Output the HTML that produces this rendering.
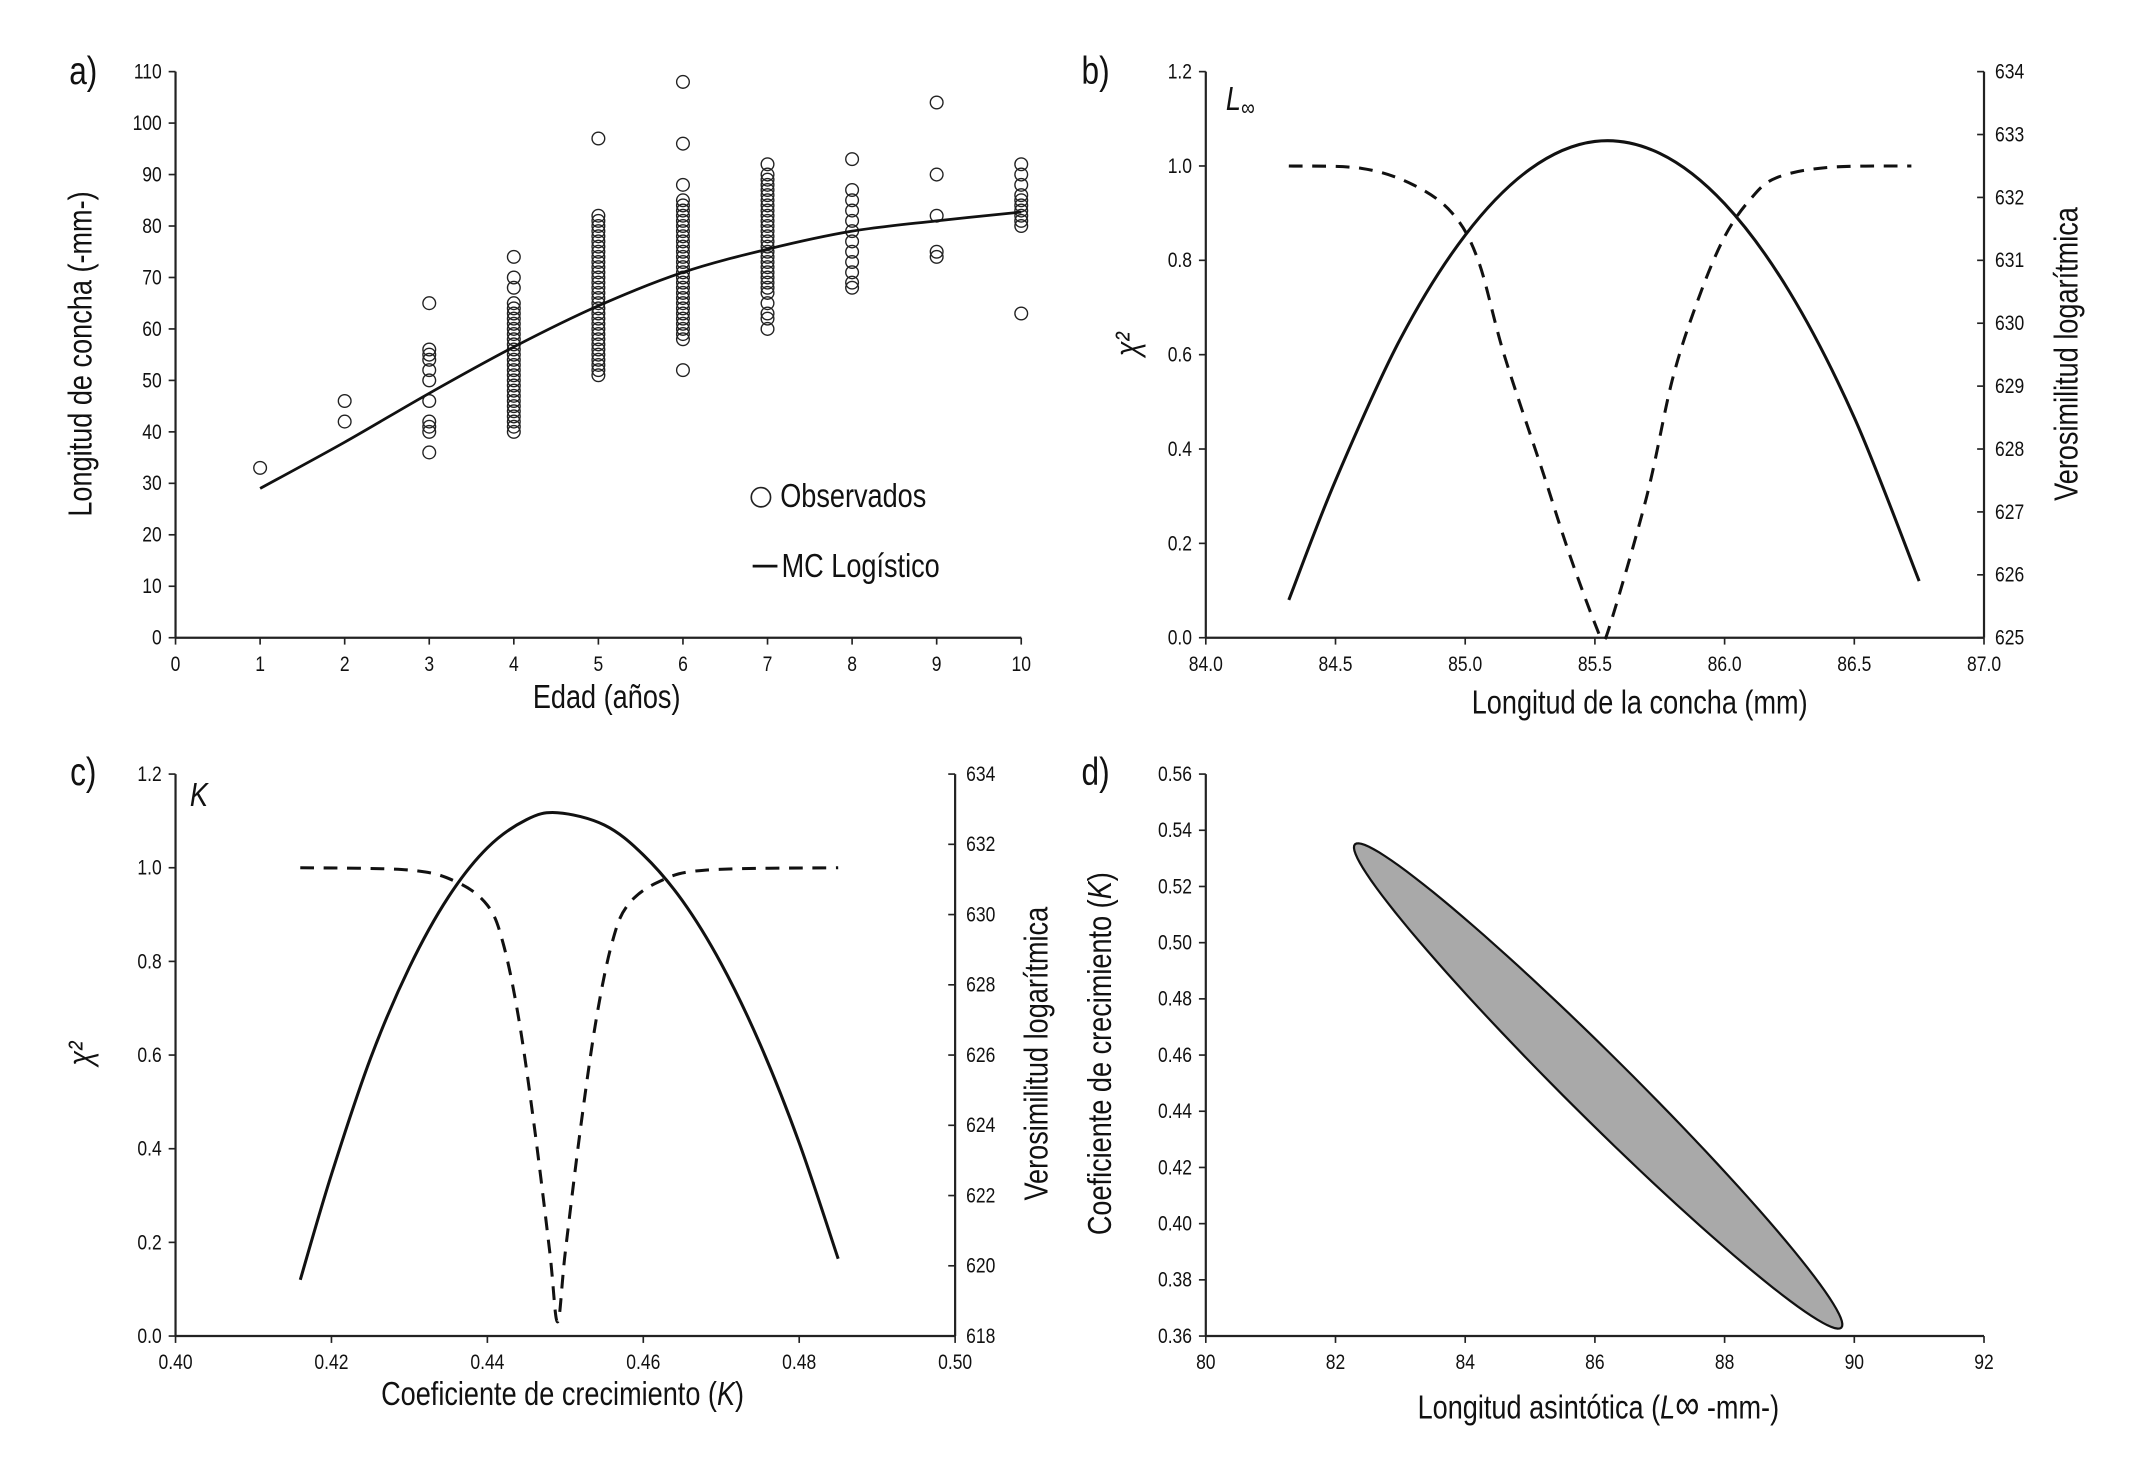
<!DOCTYPE html>
<html><head><meta charset="utf-8">
<style>
html,body{margin:0;padding:0;background:#fff;}
svg{display:block;}
text{font-family:"Liberation Sans Narrow","Liberation Sans",sans-serif;fill:#111;}
.tk{font-size:15.5px;}
.ttl{font-size:24px;}
.pl{font-size:28px;}
</style></head>
<body>
<svg id="fig" width="2132" height="1460" viewBox="0 0 1547 1060" xmlns="http://www.w3.org/2000/svg">
<g id="root"></g>
</svg>
<script>
// ---------- Panel a data ----------
const ageCats = [1,2,3,4,5,6,7,8,9,10];
const obsAge1 = [33];
const obsAge2 = [46,42];
const obsAge3 = [65,56,55,54,52,50,46,42,41,40,36];
const obsAge4 = [74,70,68,65,64,63,62,61,60,59,58,57,56,55,54,53,52,51,50,49,48,47,46,45,44,43,42,41,40];
const obsAge5 = [97,82,81,80,79,78,77,76,75,74,73,72,71,70,69,68,67,66,65,64,63,62,61,60,59,58,57,56,55,54,53,52,51];
const obsAge6 = [108,96,88,85,84,83,82,81,80,79,78,77,76,75,74,73,72,71,70,69,68,67,66,65,64,63,62,61,60,59,58,52];
const obsAge7 = [92,90,89,88,87,86,85,84,83,82,81,80,79,78,77,76,75,74,73,72,71,70,69,68,67,65,63,62,60];
const obsAge8 = [93,87,85,83,81,79,77,75,73,71,69,68];
const obsAge9 = [104,90,82,75,74];
const obsAge10 = [92,90,88,86,85,84,83,82,81,80,63];
const fitAge = [1,2,3,4,5,6,7,8,9,10];
const fitLen = [29,38,47.5,56.5,64.5,71,75.5,79,81,82.7];
const aXTicks = [0,1,2,3,4,5,6,7,8,9,10];
const aYTicks = [0,10,20,30,40,50,60,70,80,90,100,110];
// ---------- Panel b data ----------
const bX = [84.32,84.5,84.75,85.0,85.25,85.5,85.75,86.0,86.25,86.5,86.75];
const bLogLik = [625.6,627.5,629.75,631.4,632.45,632.89,632.7,631.9,630.5,628.5,625.9];
const bChiX = [84.32,84.6,84.8,84.95,85.05,85.15,85.3,85.4,85.5,85.53,85.56,85.7,85.8,85.9,86.0,86.1,86.2,86.4,86.72];
const bChi = [1.0,0.995,0.96,0.9,0.8,0.6,0.35,0.18,0.03,0.0,0.03,0.3,0.55,0.72,0.85,0.93,0.975,0.997,1.0];
const bXTicks = ["84.0","84.5","85.0","85.5","86.0","86.5","87.0"];
const bYTicks = ["0.0","0.2","0.4","0.6","0.8","1.0","1.2"];
const bY2Ticks = [625,626,627,628,629,630,631,632,633,634];
// ---------- Panel c data ----------
const cX = [0.416,0.42,0.425,0.43,0.435,0.44,0.445,0.449,0.455,0.46,0.465,0.47,0.475,0.48,0.485];
const cLogLik = [619.6,622.6,625.9,628.5,630.5,631.9,632.7,632.9,632.55,631.7,630.4,628.6,626.3,623.5,620.2];
const cChiX = [0.416,0.43,0.436,0.44,0.442,0.444,0.446,0.448,0.449,0.450,0.452,0.454,0.456,0.458,0.462,0.468,0.485];
const cChi = [1.0,0.995,0.97,0.92,0.84,0.68,0.45,0.18,0.03,0.18,0.45,0.68,0.84,0.92,0.97,0.995,1.0];
const cXTicks = ["0.40","0.42","0.44","0.46","0.48","0.50"];
const cYTicks = ["0.0","0.2","0.4","0.6","0.8","1.0","1.2"];
const cY2Ticks = [618,620,622,624,626,628,630,632,634];
// ---------- Panel d data ----------
const dCenter = [86.05,0.449];
const dTip = [89.8,0.363];
const dMinorRatio = [0.092];
const dXTicks = [80,82,84,86,88,90,92];
const dYTicks = ["0.36","0.38","0.40","0.42","0.44","0.46","0.48","0.50","0.52","0.54","0.56"];

const NS="http://www.w3.org/2000/svg";
const SX=0.82;
const root=document.getElementById('root');
function mk(tag,attrs,parent){const e=document.createElementNS(NS,tag);for(const k in attrs)e.setAttribute(k,attrs[k]);(parent||root).appendChild(e);return e;}
function txt(s,x,y,anchor,cls,parent,rot){const tr='translate('+x+','+y+')'+(rot?' rotate(-90)':'')+' scale('+SX+',1)';
  const e=mk('text',{x:0,y:0,'text-anchor':anchor,class:cls,transform:tr},parent);e.innerHTML=s;return e;}
function lin(d0,d1,r0,r1){return v=>r0+(v-d0)/(d1-d0)*(r1-r0);}
function smooth(pts){let d='M'+pts[0][0]+','+pts[0][1];for(let i=0;i<pts.length-1;i++){const p0=pts[i-1]||pts[i],p1=pts[i],p2=pts[i+1],p3=pts[i+2]||p2;const c1=[p1[0]+(p2[0]-p0[0])/6,p1[1]+(p2[1]-p0[1])/6],c2=[p2[0]-(p3[0]-p1[0])/6,p2[1]-(p3[1]-p1[1])/6];d+=' C'+c1+' '+c2+' '+p2;}return d;}

function axes(g,x0,x1,y0,y1,xt,xs,yt,ys,y2t,y2s,name){
  const ax=mk('g',{},g);
  
  
  mk('line',{x1:x0,y1:y0,x2:x1,y2:y0,stroke:'#222','stroke-width':1.6},ax);
  mk('line',{x1:x0,y1:y0,x2:x0,y2:y1,stroke:'#222','stroke-width':1.6},ax);
  xt.forEach(t=>{const x=xs(+t);mk('line',{x1:x,y1:y0,x2:x,y2:y0+5,stroke:'#222','stroke-width':1.2},ax);
    const e=txt(String(t),x,y0+24,'middle','tk',ax);
    
    });
  yt.forEach(t=>{const y=ys(+t);mk('line',{x1:x0-5,y1:y,x2:x0,y2:y,stroke:'#222','stroke-width':1.2},ax);
    const e=txt(String(t),x0-10,y+5,'end','tk',ax);
    
    });
  if(y2t){mk('line',{x1:x1,y1:y0,x2:x1,y2:y1,stroke:'#222','stroke-width':1.6},ax);
    y2t.forEach(t=>{const y=y2s(+t);mk('line',{x1:x1-5,y1:y,x2:x1,y2:y,stroke:'#222','stroke-width':1.2},ax);
      const e=txt(String(t),x1+8,y+5,'start','tk',ax);
      
      });}
}
function label(s,x,y,cls,name,rot){const e=txt(s,x,y,'middle',cls,root,rot);
  
  return e;}

// ===== Panel a =====
(function(){
  const g=mk('g',{});
  
  
  const xs=lin(0,10,127,741), ys=lin(0,110,463,52);
  axes(g,127,741,463,52,aXTicks,xs,aYTicks,ys,null,null,'panel-a');
  const groups=[obsAge1,obsAge2,obsAge3,obsAge4,obsAge5,obsAge6,obsAge7,obsAge8,obsAge9,obsAge10];
  groups.forEach((arr,i)=>arr.forEach(v=>{
    const c=mk('circle',{cx:xs(ageCats[i]),cy:ys(v),r:4.6,fill:'none',stroke:'#222','stroke-width':1},g);
    
    }));
  const p=mk('path',{d:smooth(fitAge.map((a,i)=>[xs(a),ys(fitLen[i])])),fill:'none',stroke:'#111','stroke-width':2},g);
  
  
  const lc=mk('circle',{cx:552,cy:361,r:7,fill:'none',stroke:'#222','stroke-width':1.2},g);
  
  
  const t1=txt('Observados',566,368,'start','ttl',g);
  
  
  const ll=mk('line',{x1:546,y1:411,x2:564,y2:411,stroke:'#111','stroke-width':2},g);
  
  
  const t2=txt('MC Logístico',567,419,'start','ttl',g);
  
  
  label('a)',60,61,'pl','panel-a-label');
  label('Longitud de concha (-mm-)',66,257,'ttl','y-axis-title-a',true);
  label('Edad (años)',440,514,'ttl','x-axis-title-a');
})();

// ===== Panel b =====
(function(){
  const g=mk('g',{});
  
  
  const xs=lin(84,87,875,1440), ys=lin(0,1.2,463,52), y2=lin(625,634,463,52);
  axes(g,875,1440,463,52,bXTicks,xs,bYTicks,ys,bY2Ticks,y2,'panel-b');
  const s=mk('path',{d:smooth(bX.map((x,i)=>[xs(x),y2(bLogLik[i])])),fill:'none',stroke:'#111','stroke-width':2.2},g);
  
  
  const d=mk('path',{d:smooth(bChiX.map((x,i)=>[xs(x),ys(bChi[i])])),fill:'none',stroke:'#111','stroke-width':2.2,'stroke-dasharray':'10,7'},g);
  
  
  label('b)',795,61,'pl','panel-b-label');
  label('<tspan font-style="italic">L<tspan font-size="17" dy="4">∞</tspan></tspan>',900,80,'ttl','parameter-label-linf');
  label('<tspan font-style="italic">χ²</tspan>',826,250,'ttl','y-axis-title-b',true);
  label('Verosimilitud logarítmica',1508,257,'ttl','y2-axis-title-b',true);
  label('Longitud de la concha (mm)',1190,518,'ttl','x-axis-title-b');
})();

// ===== Panel c =====
(function(){
  const g=mk('g',{});
  
  
  const xs=lin(0.40,0.50,127,693), ys=lin(0,1.2,970,562), y2=lin(618,634,970,562);
  axes(g,127,693,970,562,cXTicks,xs,cYTicks,ys,cY2Ticks,y2,'panel-c');
  const s=mk('path',{d:smooth(cX.map((x,i)=>[xs(x),y2(cLogLik[i])])),fill:'none',stroke:'#111','stroke-width':2.2},g);
  
  
  const d=mk('path',{d:smooth(cChiX.map((x,i)=>[xs(x),ys(cChi[i])])),fill:'none',stroke:'#111','stroke-width':2.2,'stroke-dasharray':'10,7'},g);
  
  
  label('c)',60,570,'pl','panel-c-label');
  label('<tspan font-style="italic">K</tspan>',144,585,'ttl','parameter-label-k');
  label('<tspan font-style="italic">χ²</tspan>',66,765,'ttl','y-axis-title-c',true);
  label('Verosimilitud logarítmica',760,765,'ttl','y2-axis-title-c',true);
  label('Coeficiente de crecimiento (<tspan font-style="italic">K</tspan>)',408,1020,'ttl','x-axis-title-c');
})();

// ===== Panel d =====
(function(){
  const g=mk('g',{});
  
  
  const xs=lin(80,92,875,1440), ys=lin(0.36,0.56,970,562);
  axes(g,875,1440,970,562,dXTicks,xs,dYTicks,ys,null,null,'panel-d');
  const cx=xs(dCenter[0]),cy=ys(dCenter[1]),tx=xs(dTip[0]),ty=ys(dTip[1]);
  const ax=tx-cx,ay=ty-cy,bx=-ay*dMinorRatio[0],by=ax*dMinorRatio[0];
  const pts=[];for(let i=0;i<=120;i++){const t=i/120*2*Math.PI;pts.push((cx+Math.cos(t)*ax+Math.sin(t)*bx).toFixed(2)+','+(cy+Math.cos(t)*ay+Math.sin(t)*by).toFixed(2));}
  const e=mk('polygon',{points:pts.join(' '),fill:'#a9a9a9',stroke:'#111','stroke-width':1.6},g);
  
  
  label('d)',795,570,'pl','panel-d-label');
  label('Coeficiente de crecimiento (<tspan font-style="italic">K</tspan>)',806,765,'ttl','y-axis-title-d',true);
  label('Longitud asintótica (<tspan font-style="italic">L</tspan><tspan font-size="30">∞</tspan> -mm-)',1160,1030,'ttl','x-axis-title-d');
})();
</script>
</body></html>
